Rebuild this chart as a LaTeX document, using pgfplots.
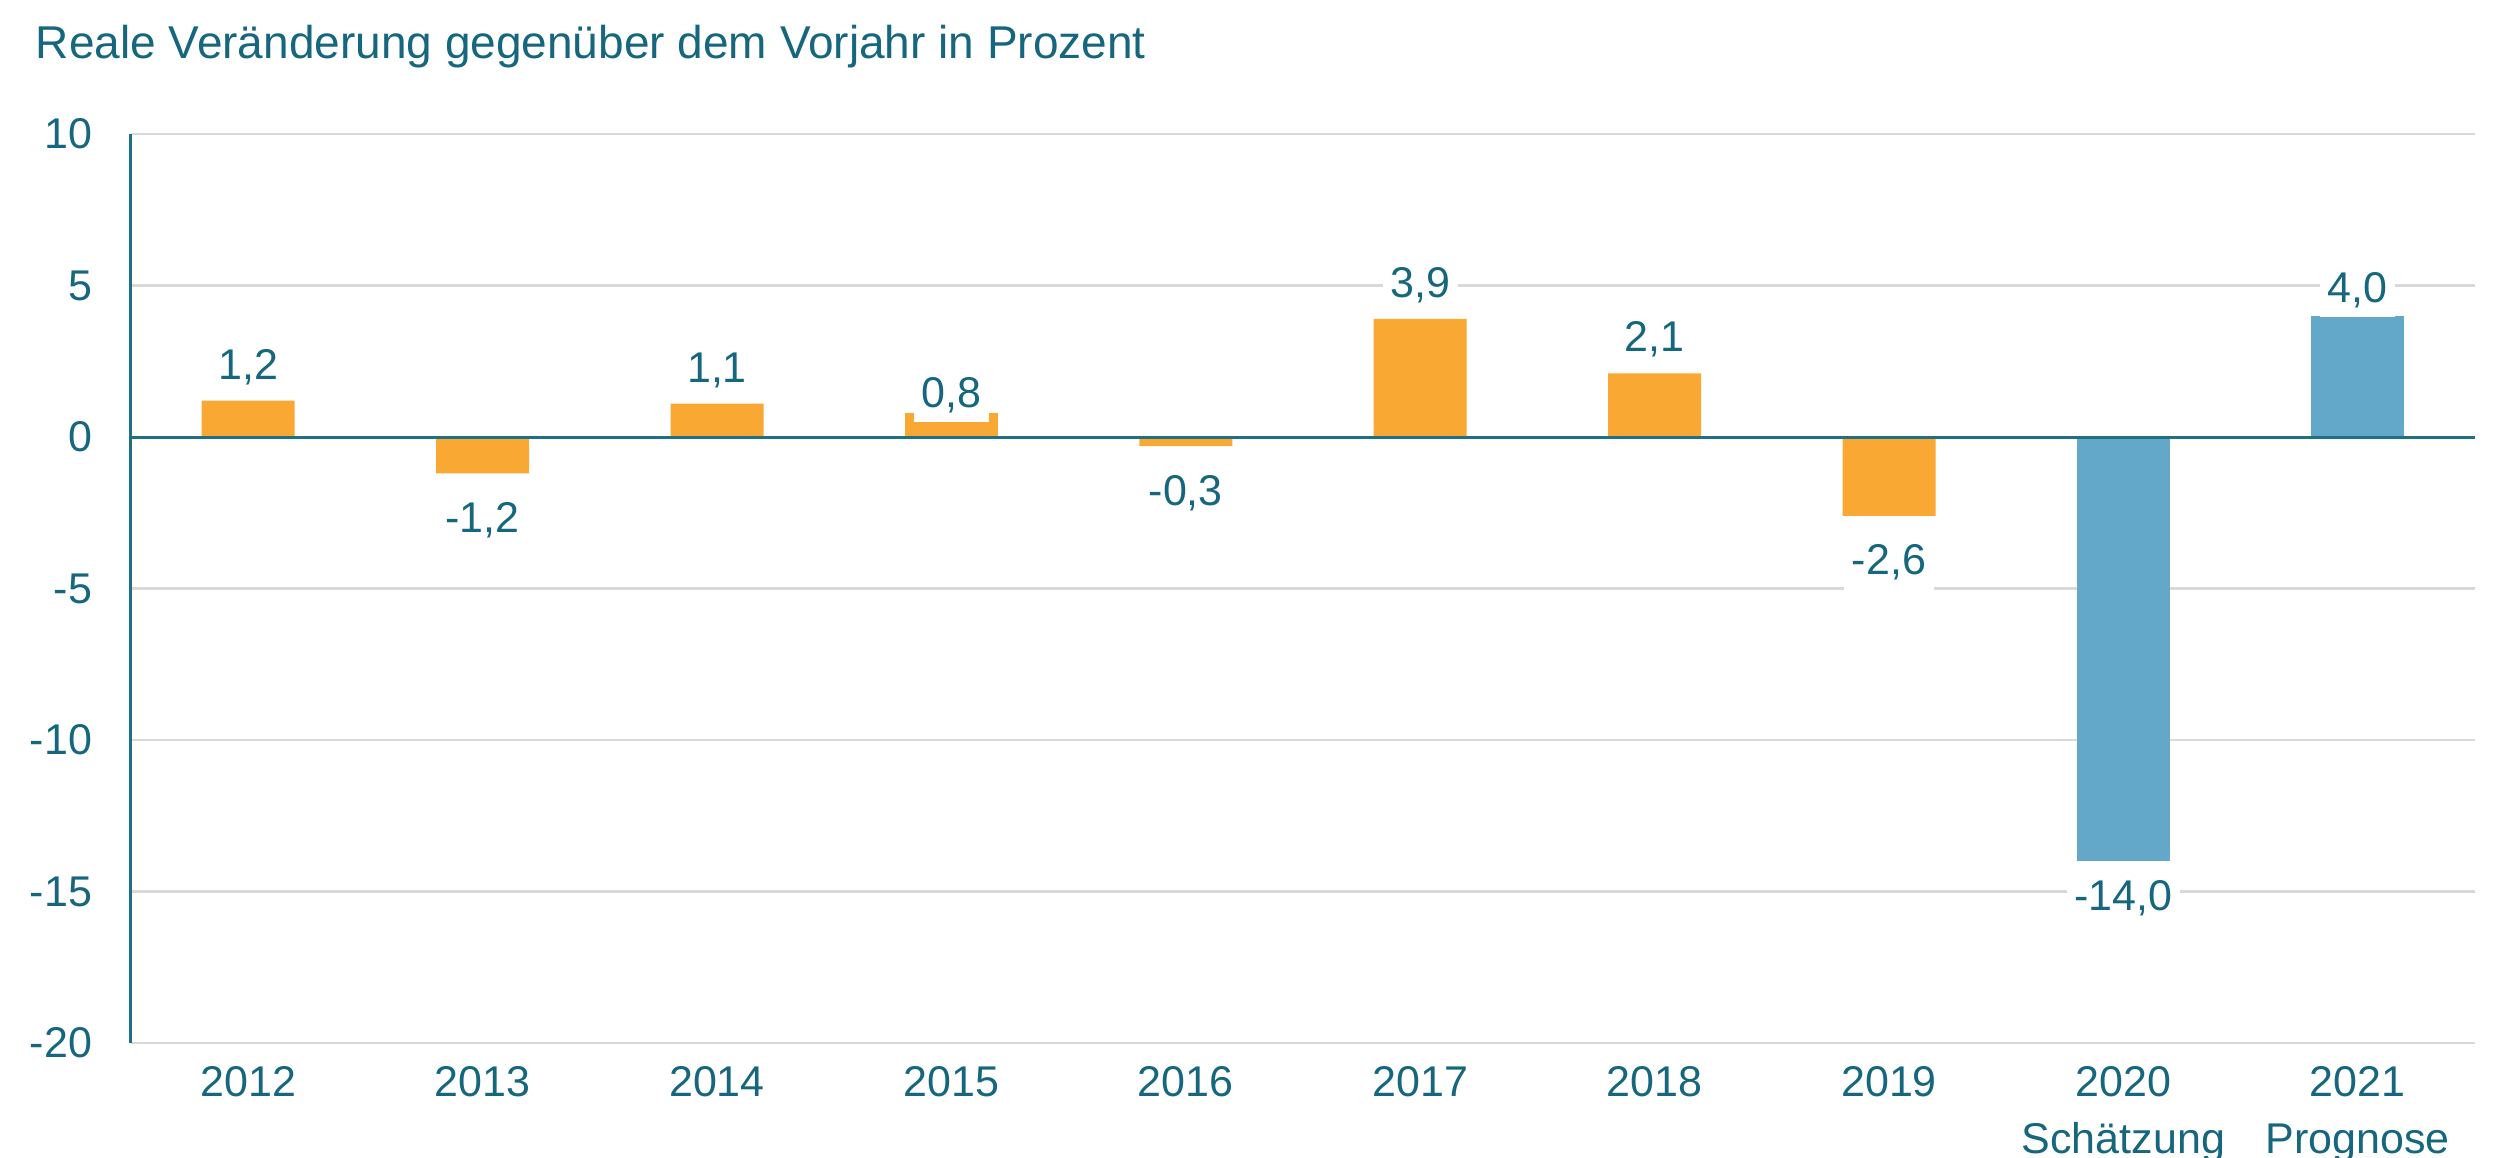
\documentclass[border=0pt]{standalone}
\usepackage{fontspec}
\setmainfont{Liberation Sans}
\usepackage{pgfplots}
\pgfplotsset{compat=1.18}

\definecolor{txtteal}{HTML}{16677E}
\definecolor{axteal}{HTML}{1F6F85}
\definecolor{barorange}{HTML}{F9A833}
\definecolor{barblue}{HTML}{63A8C8}
\definecolor{gridgray}{HTML}{D9D9D9}

\tikzset{lblfont/.style={font=\fontsize{8.6}{11.4}\selectfont, text=txtteal}}
\pgfplotsset{
  /pgf/number format/assume math mode=true,
  bars/.style={ybar, bar width=18.6pt, bar shift=0pt, draw=none, fill=#1},
  vallbl/.style={
    nodes near coords={\pgfmathprintnumber[use comma,fixed,fixed zerofill,precision=1]{\pgfplotspointmeta}},
    every node near coord/.append style={lblfont, fill=white, inner xsep=1.5pt}},
  poslbl/.style={vallbl,
    every node near coord/.append style={anchor=south, inner ysep=1.8pt, yshift=#1}},
  poslbl/.default=1.2pt,
  neglbl/.style={vallbl,
    every node near coord/.append style={anchor=north, inner ysep=2pt, yshift=#1}},
  neglbl/.default=-3.6pt,
}

\begin{document}
\begin{tikzpicture}
\useasboundingbox (-26.2pt,-22.8pt) rectangle (473.8pt,208.6pt);
\begin{axis}[
  at={(0,0)}, anchor=south west,
  scale only axis, width=468.8pt, height=181.8pt,
  xmin=-0.5, xmax=9.5, ymin=-20, ymax=10,
  axis y line*=left, axis x line*=bottom,
  x axis line style={draw=none},
  y axis line style={axteal, line width=0.6pt},
  xtick={0,...,9},
  xticklabels={2012,2013,2014,2015,2016,2017,2018,2019,{2020\\Schätzung},{2021\\Prognose}},
  ytick={-20,-15,...,10},
  major tick length=0pt,
  ymajorgrids, grid style={gridgray, line width=0.5pt},
  xticklabel style={lblfont, align=center, inner sep=0pt, anchor=north},
  yticklabel style={lblfont, inner sep=0pt, anchor=east},
  xticklabel shift=4.4pt, yticklabel shift=7.6pt,
  clip=false,
]
% 2012-2019 (orange)
\addplot[bars=barorange, poslbl] coordinates {(0,1.2) (2,1.1) (5,3.9) (6,2.1)};
\addplot[bars=barorange, neglbl] coordinates {(1,-1.2) (4,-0.3) (7,-2.6)};
% 2015: label sits lower and cuts into the bar
\addplot[bars=barorange, poslbl=-2pt] coordinates {(3,0.8)};
% 2020 Schaetzung, 2021 Prognose (blue)
\addplot[bars=barblue, neglbl=-1.6pt] coordinates {(8,-14.0)};
\addplot[bars=barblue, poslbl=-0.4pt] coordinates {(9,4.0)};
% zero line
\addplot[axteal, line width=0.6pt, mark=none] coordinates {(-0.5,0) (9.5,0)};
\end{axis}
\node[anchor=base west, inner sep=0pt, font=\fontsize{9.2}{11}\selectfont, text=txtteal] at (-19.2pt,197pt)
  {Reale Veränderung gegenüber dem Vorjahr in Prozent};
\end{tikzpicture}
\end{document}
